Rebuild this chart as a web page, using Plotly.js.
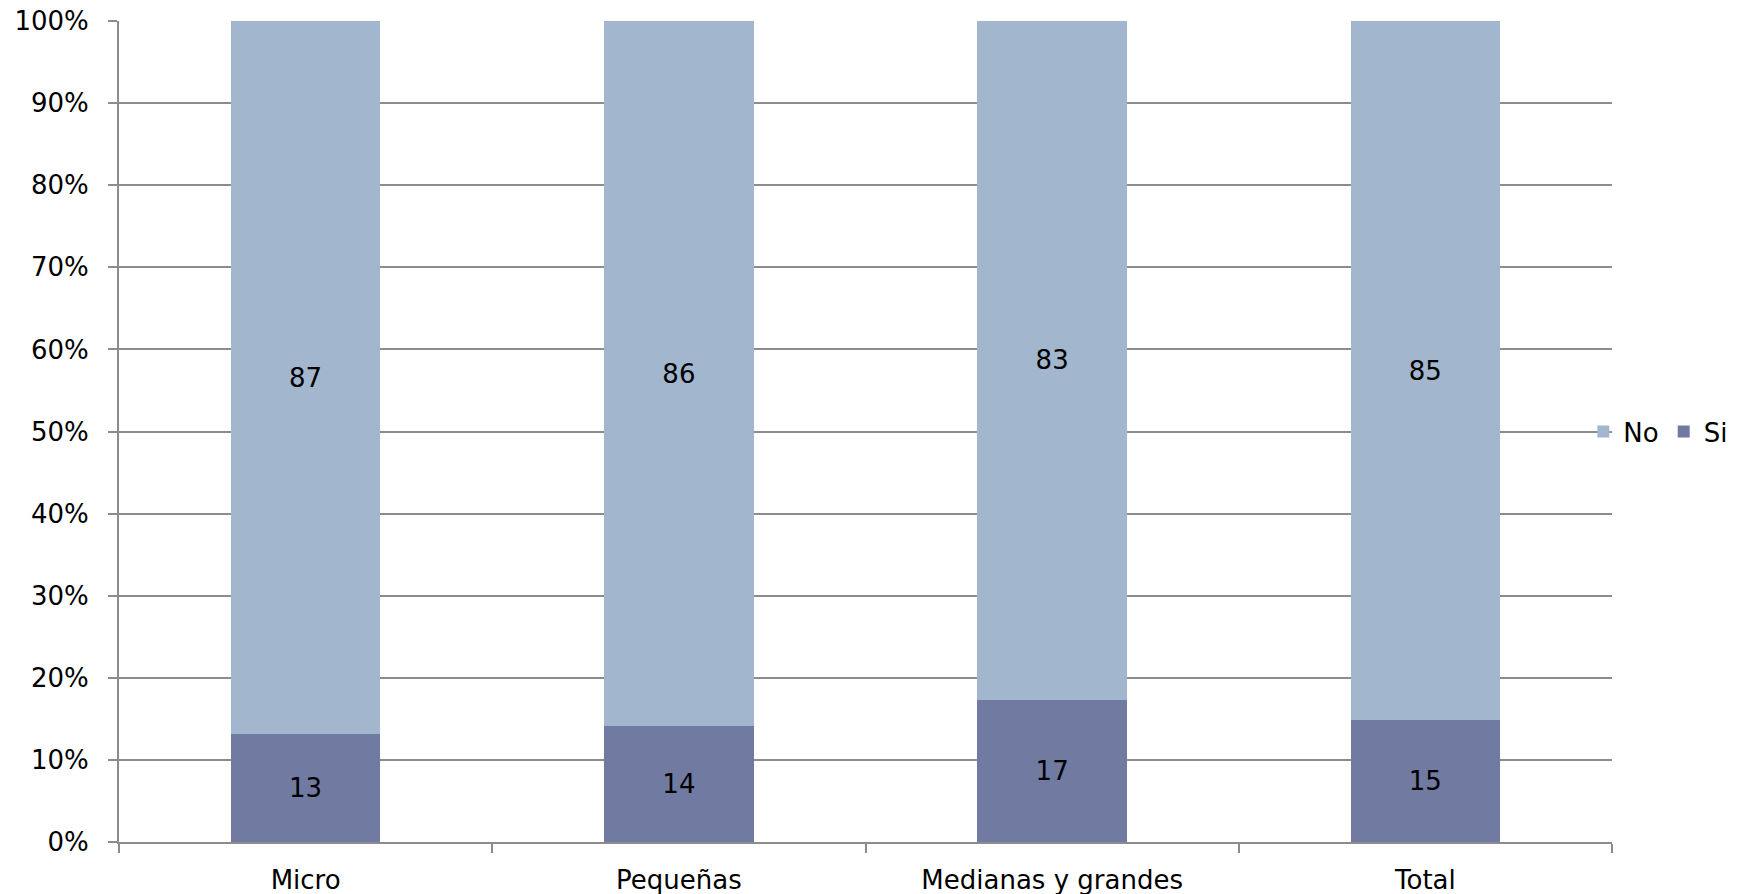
<!DOCTYPE html>
<html>
<head>
<meta charset="utf-8">
<script src="https://cdn.plot.ly/plotly-3.0.1.min.js"></script>
<style>html,body{margin:0;padding:0;background:#fff;}#chart{width:1746px;height:894px;}</style>
</head>
<body>
<div id="chart"></div>
<script>
const categories = ["Micro", "Pequeñas", "Medianas y grandes", "Total"];
const siValues = [13.1, 14.1, 17.3, 14.8];
const noValues = [86.9, 85.9, 82.7, 85.2];
const yTickValues = [0, 10, 20, 30, 40, 50, 60, 70, 80, 90, 100];
const yTickLabels = ["0%", "10%", "20%", "30%", "40%", "50%", "60%", "70%", "80%", "90%", "100%"];

const FONT = "'DejaVu Sans', sans-serif";
const FS = 26;

const traces = [
  {
    type: "bar", name: "Si", x: categories, y: siValues,
    marker: {color: "#717AA0"},
    texttemplate: "%{y:.0f}", textposition: "inside", insidetextanchor: "middle",
    textfont: {family: FONT, size: FS, color: "#000"},
    hoverinfo: "none"
  },
  {
    type: "bar", name: "No", x: categories, y: noValues,
    marker: {color: "#A2B7CE"},
    texttemplate: "%{y:.0f}", textposition: "inside", insidetextanchor: "middle",
    textfont: {family: FONT, size: FS, color: "#000"},
    hoverinfo: "none"
  }
];

const layout = {
  width: 1746, height: 894,
  margin: {l: 119, r: 134, t: 21, b: 52, pad: 0, autoexpand: false},
  paper_bgcolor: "#fff", plot_bgcolor: "#fff",
  font: {family: FONT, size: FS, color: "#000"},
  barmode: "stack",
  bargap: 0.6,
  showlegend: true,
  legend: {
    orientation: "h", traceorder: "reversed",
    x: 0.9808, xanchor: "left", y: 0.5, yanchor: "middle",
    font: {family: FONT, size: FS, color: "#000"},
    bgcolor: "rgba(0,0,0,0)", itemwidth: 30
  },
  xaxis: {
    type: "category",
    showline: true, linecolor: "#8c8c8c", linewidth: 2,
    ticks: "outside", tickson: "boundaries", ticklen: 9, tickwidth: 2, tickcolor: "#8c8c8c",
    showgrid: false, zeroline: false,
    tickfont: {family: FONT, size: FS, color: "#000"},
    ticklabelstandoff: 14
  },
  yaxis: {
    range: [0, 100],
    tickmode: "array",
    tickvals: yTickValues,
    ticktext: yTickLabels,
    showline: true, linecolor: "#8c8c8c", linewidth: 2,
    ticks: "outside", ticklen: 9, tickwidth: 2, tickcolor: "#8c8c8c",
    showgrid: true, gridcolor: "#8c8c8c", gridwidth: 2,
    zeroline: false,
    tickfont: {family: FONT, size: FS, color: "#000"},
    ticklabelstandoff: 14
  }
};

Plotly.newPlot("chart", traces, layout, {displayModeBar: false, staticPlot: true});
</script>
</body>
</html>
